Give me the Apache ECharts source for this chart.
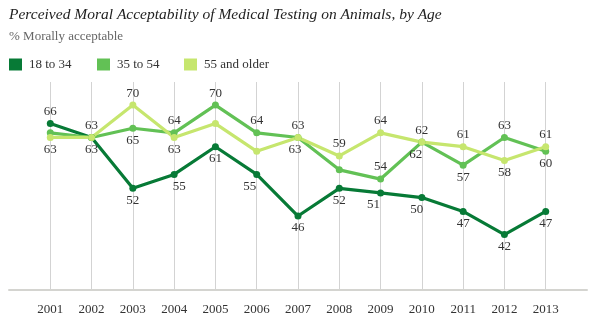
<!DOCTYPE html>
<html>
<head>
<meta charset="utf-8">
<script src="https://cdn.jsdelivr.net/npm/echarts@6/dist/echarts.min.js"></script>
<style>
  html, body { margin: 0; padding: 0; background: #fff; }
  #chart { width: 594px; height: 321px; }
</style>
</head>
<body>
<div id="chart"></div>
<script>
// Survey years and share (%) saying medical testing on animals is morally acceptable
const years = [2001, 2002, 2003, 2004, 2005, 2006, 2007, 2008, 2009, 2010, 2011, 2012, 2013];
const age18to34 = [66, 63, 52, 55, 61, 55, 46, 52, 51, 50, 47, 42, 47];
const age35to54 = [64, 63, 65, 64, 70, 64, 63, 56, 54, 62, 57, 63, 60];
const age55plus = [63, 63, 70, 63, 66, 60, 63, 59, 64, 62, 61, 58, 61];
const seriesNames = ['18 to 34', '35 to 54', '55 and older'];

// Where each value label sits: 't' above, 'b' below, '' hidden; optional x nudge
const labelPlan = {
  '18 to 34':     ['t', '', 'b', 'b+5', 'b', 'b-7', 'b', 'b', 'b-7', 'b-5', 'b', 'b', 'b'],
  '35 to 54':     ['', 't', 'b', 't', 't', 't', 't', '', 't', 'b-6', 'b', 't', 'b'],
  '55 and older': ['b', 'b', 't', 'b', '', '', 'b-3', 't', 't', 't', 't', 'b', 't']
};
const colors = ['#077a36', '#62c155', '#c6e66e'];
const serif = '"Liberation Serif", "Times New Roman", serif';

function buildData(name, values) {
  return values.map((v, i) => {
    const plan = labelPlan[name][i];
    const item = { value: [years[i], v] };
    if (!plan) {
      item.label = { show: false };
    } else {
      const dx = plan.length > 1 ? Number(plan.slice(1)) : 0;
      item.label = {
        show: true,
        position: plan[0] === 't' ? 'top' : 'bottom',
        offset: [dx, 0]
      };
    }
    return item;
  });
}

const allValues = [age18to34, age35to54, age55plus];
const series = seriesNames.map((name, k) => ({
  name: name,
  type: 'line',
  data: buildData(name, allValues[k]),
  symbol: 'circle',
  symbolSize: 7,
  lineStyle: { width: 3.2, color: colors[k] },
  itemStyle: { color: colors[k] },
  label: {
    distance: 2,
    color: '#333',
    fontFamily: serif,
    fontSize: 13
  },
  emphasis: { disabled: true },
  animation: false
}));

const legendLefts = [9, 97, 184];
const legends = seriesNames.map((name, k) => ({
  data: [name],
  left: legendLefts[k],
  top: 58,
  icon: 'rect',
  itemWidth: 13,
  itemHeight: 12,
  padding: 0,
  selectedMode: false,
  textStyle: { fontFamily: serif, fontSize: 13, color: '#333', padding: [0, 0, 0, 2] }
}));

const chart = echarts.init(document.getElementById('chart'), null, { renderer: 'canvas' });
chart.setOption({
  backgroundColor: '#fff',
  color: colors,
  title: [
    {
      text: 'Perceived Moral Acceptability of Medical Testing on Animals, by Age',
      left: 9, top: 7, padding: 0,
      textStyle: { fontFamily: serif, fontStyle: 'italic', fontWeight: 'normal', fontSize: 15.5, color: '#222' }
    },
    {
      text: '% Morally acceptable',
      left: 9, top: 30, padding: 0,
      textStyle: { fontFamily: serif, fontWeight: 'normal', fontSize: 13, color: '#666' }
    }
  ],
  legend: legends,
  grid: { left: 9, right: 7, top: 82, bottom: 31, containLabel: false },
  xAxis: {
    type: 'value',
    min: 2000,
    max: 2014,
    interval: 1,
    axisLine: { show: true, onZero: false, lineStyle: { color: '#d4d4d0', width: 2 } },
    axisTick: { show: false },
    axisLabel: {
      margin: 13,
      color: '#333',
      fontFamily: serif,
      fontSize: 13,
      formatter: v => (v >= years[0] && v <= years[years.length - 1]) ? String(v) : ''
    },
    splitLine: { show: true, showMinLine: false, showMaxLine: false, lineStyle: { color: '#d3d3d3', width: 1 } }
  },
  yAxis: {
    type: 'value',
    min: 30,
    max: 75,
    show: false,
    splitLine: { show: false }
  },
  series: series
});
</script>
</body>
</html>
